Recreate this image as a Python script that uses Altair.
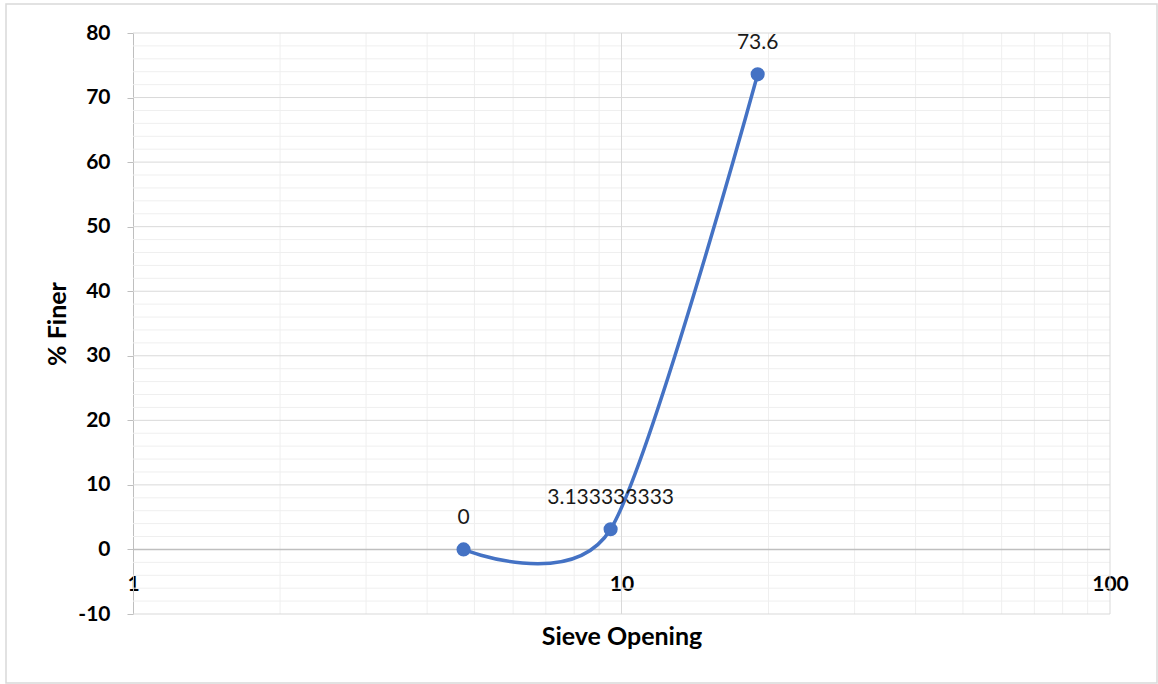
import altair as alt
import pandas as pd

# Sieve analysis: opening size (mm) vs. percent passing
sieve_mm = [4.75, 9.5, 19.0]
pct_finer = [0, 3.133333333, 73.6]
point_labels = [f"{v:.10g}" for v in pct_finer]

# Axis ticks and gridline positions
y_ticks = list(range(-10, 81, 10))
y_minor = [v for v in range(-8, 80, 2) if v % 10 != 0]
x_ticks = [1, 10, 100]
x_minor = [2, 3, 4, 5, 6, 7, 8, 9, 20, 30, 40, 50, 60, 70, 80, 90]

W, H = 977, 581
BLUE = "#4472C4"
FONT = "Lato"

xs = alt.Scale(type="log", domain=[1, 100], nice=False)
ys = alt.Scale(domain=[-10, 80], nice=False, zero=False)

pts = pd.DataFrame({"x": sieve_mm, "y": pct_finer, "label": point_labels})

x_axis = alt.Axis(
    values=x_ticks, labelExpr="datum.value + ''", domain=False, ticks=False, grid=False,
    labelPadding=-41, labelFlush=False, labelOverlap=False,
    labelFont=FONT, labelFontWeight="bold", labelFontSize=21, labelColor="#000000",
    title="Sieve Opening", titleFont=FONT, titleFontWeight="bold", titleFontSize=25,
    titleColor="#000000", titleY=22, titleBaseline="middle",
)
y_axis = alt.Axis(
    values=y_ticks, labelExpr="datum.value + ''", domain=True, domainColor="#bfbfbf",
    ticks=True, tickColor="#bfbfbf", tickSize=6, grid=False, labelPadding=17,
    labelFont=FONT, labelFontWeight="bold", labelFontSize=21, labelColor="#000000",
    title="% Finer", titleFont=FONT, titleFontWeight="bold", titleFontSize=25,
    titleColor="#000000", titleX=-76, titleY=H / 2, titleAlign="center",
    titleBaseline="middle", titleAngle=270,
)


def xenc():
    return alt.X("x:Q", scale=xs, axis=x_axis)


def yenc():
    return alt.Y("y:Q", scale=ys, axis=y_axis)


minor_h = alt.Chart(pd.DataFrame({"y": y_minor})).mark_rule(
    color="#efefef", strokeWidth=1
).encode(y=yenc())

minor_v = alt.Chart(pd.DataFrame({"x": x_minor})).mark_rule(
    color="#efefef", strokeWidth=1
).encode(x=xenc())

major_h = alt.Chart(pd.DataFrame({"y": [v for v in y_ticks if v != 0]})).mark_rule(
    color="#d9d9d9", strokeWidth=1
).encode(y=yenc())

major_v = alt.Chart(pd.DataFrame({"x": x_ticks[1:]})).mark_rule(
    color="#d9d9d9", strokeWidth=1
).encode(x=xenc())

zero_line = alt.Chart(pd.DataFrame({"y": [0]})).mark_rule(
    color="#bfbfbf", strokeWidth=1.5
).encode(y=yenc())

curve = alt.Chart(pts).mark_line(
    interpolate="cardinal", tension=0.2, color=BLUE, strokeWidth=3.5
).encode(x=xenc(), y=yenc())

dots = alt.Chart(pts).mark_circle(size=200, opacity=1, color=BLUE).encode(
    x=xenc(), y=yenc()
)

value_text = alt.Chart(pts).mark_text(
    dy=-31, font=FONT, fontSize=21, color="#1a1a1a", baseline="middle", align="center"
).encode(x=xenc(), y=yenc(), text="label:N")

frame = alt.Chart(pd.DataFrame({"a": [0]})).mark_rect(
    fillOpacity=0, stroke="#d9d9d9", strokeWidth=1.5
).encode(
    x=alt.value(-127), x2=alt.value(1024), y=alt.value(-29), y2=alt.value(650)
)

chart = alt.layer(
    frame, minor_h, minor_v, major_h, major_v, zero_line, curve, dots, value_text
).properties(
    width=W, height=H,
    padding={"left": 133, "top": 33, "right": 48, "bottom": 70},
    autosize=alt.AutoSizeParams(type="none"),
    background="white",
).configure_view(stroke=None)

chart.save("out.html", embed_options={"renderer": "svg", "actions": False})
